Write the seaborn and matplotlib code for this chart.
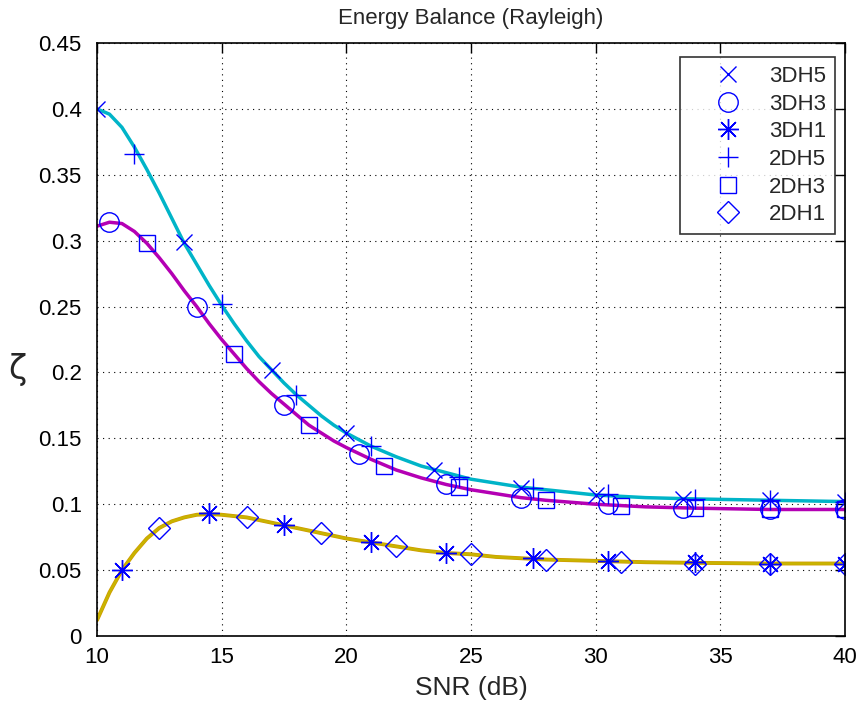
import matplotlib
matplotlib.use("Agg")
import matplotlib.pyplot as plt
import seaborn as sns

# SNR axis values for the marker series (dB)
x_3dh5 = [10, 13.5, 17, 20, 23.5, 27, 30, 33.5, 37, 40]
y_3dh5 = [0.400, 0.299, 0.202, 0.154, 0.126, 0.112, 0.107, 0.104, 0.103, 0.102]

x_3dh3 = [10.5, 14, 17.5, 20.5, 24, 27, 30.5, 33.5, 37, 40]
y_3dh3 = [0.314, 0.250, 0.175, 0.138, 0.115, 0.105, 0.100, 0.097, 0.096, 0.096]

x_3dh1 = [11, 14.5, 17.5, 21, 24, 27.5, 30.5, 34, 37, 40]
y_3dh1 = [0.050, 0.093, 0.084, 0.071, 0.063, 0.059, 0.057, 0.056, 0.055, 0.055]

x_2dh5 = [11.5, 15, 18, 21, 24.5, 27.5, 30.5, 34, 37, 40]
y_2dh5 = [0.366, 0.252, 0.183, 0.144, 0.121, 0.112, 0.108, 0.104, 0.103, 0.102]

x_2dh3 = [12, 15.5, 18.5, 21.5, 24.5, 28, 31, 34, 37, 40]
y_2dh3 = [0.298, 0.214, 0.160, 0.129, 0.113, 0.103, 0.099, 0.097, 0.096, 0.096]

x_2dh1 = [12.5, 16, 19, 22, 25, 28, 31, 34, 37, 40]
y_2dh1 = [0.082, 0.090, 0.078, 0.068, 0.062, 0.058, 0.056, 0.055, 0.055, 0.055]

# analytic curves
curve_x = [10, 10.5, 11, 11.5, 12, 12.5, 13, 13.5, 14, 14.5, 15, 15.5, 16, 16.5,
           17, 17.5, 18, 18.5, 19, 19.5, 20, 21, 22, 23, 24, 25, 26, 27, 28,
           30, 32, 34, 37, 40]
curve_dh5 = [0.400, 0.396, 0.386, 0.371, 0.354, 0.336, 0.317, 0.298, 0.282, 0.266,
             0.251, 0.237, 0.224, 0.212, 0.202, 0.192, 0.183, 0.175, 0.167, 0.160,
             0.154, 0.144, 0.136, 0.129, 0.124, 0.119, 0.116, 0.113, 0.111,
             0.107, 0.105, 0.104, 0.103, 0.102]
curve_dh3 = [0.311, 0.314, 0.313, 0.307, 0.298, 0.287, 0.275, 0.262, 0.250, 0.237,
             0.225, 0.214, 0.203, 0.193, 0.184, 0.176, 0.168, 0.160, 0.154, 0.148,
             0.143, 0.134, 0.126, 0.120, 0.115, 0.111, 0.108, 0.105, 0.103,
             0.100, 0.098, 0.097, 0.096, 0.096]
curve_dh1 = [0.012, 0.033, 0.050, 0.063, 0.074, 0.082, 0.087, 0.090, 0.092, 0.0925,
             0.092, 0.091, 0.090, 0.088, 0.086, 0.084, 0.082, 0.080, 0.078, 0.076,
             0.074, 0.071, 0.068, 0.065, 0.063, 0.062, 0.060, 0.059, 0.058,
             0.057, 0.056, 0.0555, 0.055, 0.055]

sns.set_theme(style="white")
plt.rcParams['font.family'] = ['Liberation Sans', 'DejaVu Sans']

fig = plt.figure(figsize=(8.63, 7.04), dpi=100)
ax = fig.add_axes([0.1124, 0.0966, 0.8667, 0.8423])

# curves
sns.lineplot(x=curve_x, y=curve_dh5, color='#00b4c8', linewidth=2.5, ax=ax, legend=False)
sns.lineplot(x=curve_x, y=curve_dh3, color='#b400b4', linewidth=2.5, ax=ax, legend=False)
sns.lineplot(x=curve_x, y=curve_dh1, color='#d09a00', linewidth=2.8, ax=ax, legend=False)
sns.lineplot(x=curve_x, y=curve_dh1, color='#c8b400', linewidth=1.8, ax=ax, legend=False)

blue = '#0000ff'
series = [
    (x_3dh5, y_3dh5, 'x', 11, '3DH5'),
    (x_3dh3, y_3dh3, 'o', 14, '3DH3'),
    (x_3dh1, y_3dh1, (8, 2, 0), 15, '3DH1'),
    (x_2dh5, y_2dh5, '+', 15, '2DH5'),
    (x_2dh3, y_2dh3, 's', 11, '2DH3'),
    (x_2dh1, y_2dh1, 'D', 11, '2DH1'),
]
for xs, ys, mk, ms, lab in series:
    sns.lineplot(x=xs, y=ys, marker=mk, linestyle='', markersize=ms,
                 markerfacecolor='none', markeredgecolor=blue, markeredgewidth=1.0,
                 color=blue, label=lab, ax=ax)

ax.set_xlim(10, 40)
ax.set_ylim(0, 0.45)
ax.set_xticks(range(10, 41, 5))
ax.set_yticks([i * 0.05 for i in range(10)])
ax.set_yticklabels(['0', '0.05', '0.1', '0.15', '0.2', '0.25', '0.3', '0.35', '0.4', '0.45'])
ax.tick_params(direction='in', length=7, width=1, labelsize=16, top=True, right=True,
               colors='black')
ax.tick_params(axis='y', pad=11)
ax.tick_params(axis='x', pad=8)
ax.grid(True, linestyle=(0, (1, 4)), color='black', linewidth=0.8)
for sp in ax.spines.values():
    sp.set_color('black')
    sp.set_linewidth(1.2)

ax.set_title('Energy Balance (Rayleigh)', fontsize=16, pad=14)
ax.set_xlabel('SNR (dB)', fontsize=19, labelpad=6)
ax.set_ylabel('ζ', fontsize=24, family=['DejaVu Sans'], rotation=0, va='center', ha='center')
ax.yaxis.set_label_coords(-0.107, 0.45)

leg = ax.legend(loc='upper right', bbox_to_anchor=(0.9866, 0.9764), borderaxespad=0,
                fontsize=16, frameon=True, fancybox=False, edgecolor='black',
                handlelength=3.5, handletextpad=0.1, labelspacing=0.3, borderpad=0.4)
leg.get_frame().set_linewidth(1.2)

fig.savefig('out.png', dpi=100)
